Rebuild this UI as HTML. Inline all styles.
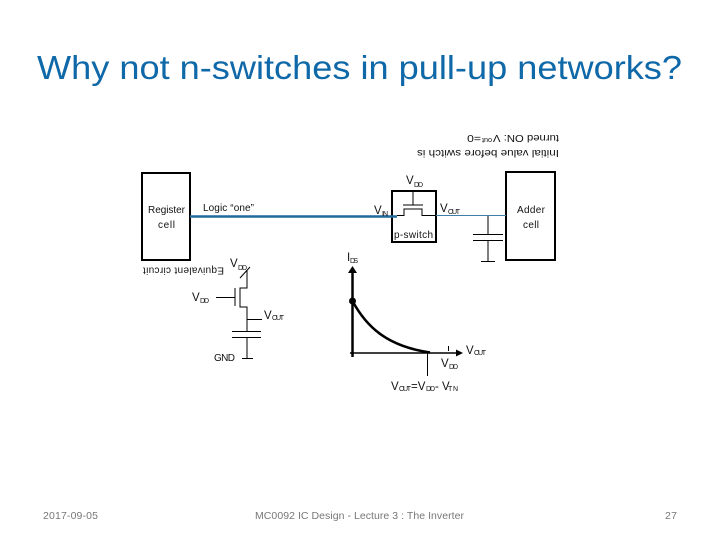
<!DOCTYPE html>
<html>
<head>
<meta charset="utf-8">
<style>
html,body{margin:0;padding:0;background:#fff;width:720px;height:540px;overflow:hidden}
svg{display:block}
text{font-family:"Liberation Sans",sans-serif;fill:#111}
.s{font-size:10px}
.b{font-size:10px;fill:#111}
.v{font-size:11.5px;fill:#111}
.sub{font-size:7px}
.f{font-size:10.5px;fill:#777}
</style>
</head>
<body>
<svg width="720" height="540" viewBox="0 0 720 540" xmlns="http://www.w3.org/2000/svg">
<rect width="720" height="540" fill="#fff"/>
<text x="37" y="79" font-size="33.5" textLength="645" lengthAdjust="spacingAndGlyphs" style="fill:#0f68a8">Why not n-switches in pull-up networks?</text>

<!-- upside-down note -->
<g transform="rotate(180 470 142)">
<text class="s" x="381" y="134" textLength="142" lengthAdjust="spacingAndGlyphs">Initial value before switch is</text>
<text class="s" x="381" y="149" textLength="66" lengthAdjust="spacingAndGlyphs">turned ON: V</text>
<text class="sub" x="448" y="146" textLength="10" lengthAdjust="spacingAndGlyphs">out</text>
<text class="s" x="459" y="149" textLength="14" lengthAdjust="spacingAndGlyphs">=0</text>
</g>

<!-- blocks -->
<g fill="none" stroke="#000">
<rect x="142" y="173" width="48" height="87" stroke-width="2"/>
<rect x="392" y="191" width="44" height="51" stroke-width="2"/>
<rect x="506" y="172" width="49" height="88" stroke-width="2"/>
</g>
<line x1="190" y1="216.5" x2="397" y2="216.5" stroke="#1f6a9c" stroke-width="2.5"/>
<line x1="436" y1="215.5" x2="506" y2="215.5" stroke="#3d7fa8" stroke-width="1"/>

<!-- p switch and cap -->
<g fill="none" stroke="#000" stroke-width="1">
<path d="M413 192V205M403 205H423M397 215.5H404V209H422V215.5H436"/>
<path d="M488 216V234M473 234.5H503M473 240.5H503M488 240V261M481 261.5H495"/>
</g>

<text class="b" x="148" y="213" textLength="37" lengthAdjust="spacing">Register</text>
<text class="b" x="158" y="228" textLength="17" lengthAdjust="spacing">cell</text>
<text class="b" x="203" y="211" textLength="51" lengthAdjust="spacing">Logic “one”</text>
<text class="b" x="517" y="213" textLength="28" lengthAdjust="spacing">Adder</text>
<text class="b" x="523" y="228" textLength="16" lengthAdjust="spacing">cell</text>
<text class="b" x="394" y="238" textLength="39" lengthAdjust="spacing">p-switch</text>

<text class="v" x="406" y="184">V</text><text class="sub" x="414" y="187" textLength="9" lengthAdjust="spacing">DD</text>
<text class="v" x="374" y="214">V</text><text class="sub" x="382" y="216" textLength="6" lengthAdjust="spacing">IN</text>
<text class="v" x="440" y="212">V</text><text class="sub" x="448" y="214" textLength="12" lengthAdjust="spacing">OUT</text>

<!-- equivalent circuit -->
<g transform="rotate(180 183.5 269.25)">
<text class="b" x="143" y="271" textLength="81" lengthAdjust="spacing">Equivalent circuit</text>
</g>
<text class="v" x="230" y="267">V</text><text class="sub" x="238" y="270" textLength="9" lengthAdjust="spacing">DD</text>
<text class="v" x="192" y="301">V</text><text class="sub" x="200" y="303" textLength="9" lengthAdjust="spacing">DD</text>
<text class="v" x="264" y="319">V</text><text class="sub" x="272" y="320" textLength="12" lengthAdjust="spacing">OUT</text>
<text class="b" x="214" y="361" textLength="21" lengthAdjust="spacing">GND</text>
<g fill="none" stroke="#000" stroke-width="1">
<path d="M240 278L250 267M247 270V288H240V307H247V331M235 288V306M216 297.5H235M247 319.5H262"/>
<path d="M232 331.5H261M232 337.5H261M247 337V358M242 358.5H253"/>
</g>

<!-- graph -->
<g fill="none" stroke="#000">
<line x1="352.500" y1="272" x2="352.500" y2="357" stroke-width="2.500"/>
<line x1="350" y1="353" x2="457" y2="353" stroke-width="1.500"/>
<path d="M352.500 301C366 326 386 346 430 352.500" stroke-width="2.500"/>
<line x1="427.500" y1="353" x2="427.500" y2="376" stroke-width="1"/>
<line x1="448.500" y1="346" x2="448.500" y2="351" stroke-width="1"/>
</g>
<circle cx="352.500" cy="301" r="3.500" fill="#000"/>
<polygon points="352.500,266 348,273 357,273" fill="#000"/>
<polygon points="463,353 456,349.500 456,356.500" fill="#000"/>
<text class="v" x="347" y="261">I</text><text class="sub" x="350" y="263" textLength="8" lengthAdjust="spacing">DS</text>
<text class="v" x="466" y="354">V</text><text class="sub" x="474" y="355" textLength="12" lengthAdjust="spacing">OUT</text>
<text class="v" x="441" y="367">V</text><text class="sub" x="449" y="369" textLength="9" lengthAdjust="spacing">DD</text>
<text class="v" x="391" y="390">V</text><text class="sub" x="399" y="391" textLength="12" lengthAdjust="spacing">OUT</text>
<text class="v" x="411" y="390">=V</text><text class="sub" x="426" y="391" textLength="9" lengthAdjust="spacing">DD</text>
<text class="v" x="435" y="390">- V</text><text class="sub" x="448" y="391" textLength="10" lengthAdjust="spacing">TN</text>

<!-- footer -->
<text class="f" x="43" y="519" textLength="55" lengthAdjust="spacing">2017-09-05</text>
<text class="f" x="255" y="519" textLength="209" lengthAdjust="spacing">MC0092 IC Design - Lecture 3 : The Inverter</text>
<text class="f" x="665" y="519" textLength="12" lengthAdjust="spacing">27</text>
</svg>
</body>
</html>
